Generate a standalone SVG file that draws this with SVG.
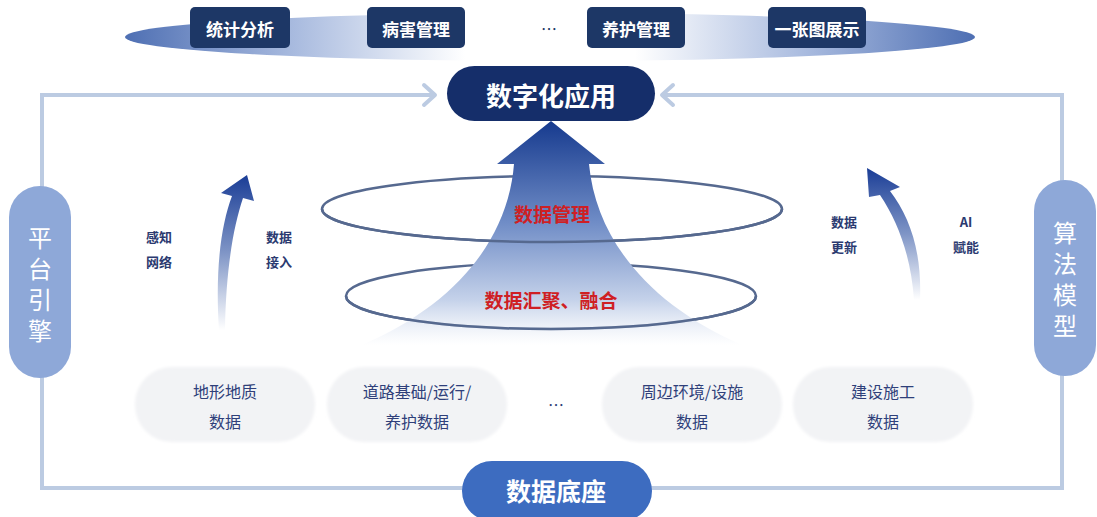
<svg xmlns="http://www.w3.org/2000/svg" width="1097" height="517" viewBox="0 0 1097 517">
<defs>
<style>
.t{font-family:"Noto Sans CJK SC","Noto Sans",sans-serif;}
.topbox{fill:#1d3766;}
.toptxt{fill:#ffffff;font-size:17px;font-weight:700;text-anchor:middle;dominant-baseline:central;}
.lbl{fill:#2b3a70;font-size:13px;font-weight:700;text-anchor:middle;dominant-baseline:central;}
.data{fill:#f2f3f5;filter:url(#soft);}
.dtxt{fill:#2f3f7a;font-size:16px;text-anchor:middle;dominant-baseline:central;}
.side{fill:#8ea8d8;}
.stxt{fill:#ffffff;font-size:24px;text-anchor:middle;writing-mode:vertical-rl;letter-spacing:7px;}
.loop{fill:none;stroke:#bccbe2;stroke-width:4;}
.chev{fill:none;stroke:#bccbe2;stroke-width:4;stroke-linecap:round;stroke-linejoin:round;}
.red{fill:#cf1f24;font-size:19px;font-weight:700;text-anchor:middle;dominant-baseline:central;}
.ring{fill:none;stroke:#56698f;stroke-width:2.5;}
</style>
<filter id="soft" x="-10%" y="-20%" width="120%" height="140%"><feGaussianBlur stdDeviation="1.5"/></filter>
<linearGradient id="disc" x1="0" y1="0" x2="1" y2="0">
<stop offset="0" stop-color="#4e6fb3"/>
<stop offset="0.2" stop-color="#a9bbdf"/>
<stop offset="0.4" stop-color="#ffffff"/>
<stop offset="0.6" stop-color="#ffffff"/>
<stop offset="0.8" stop-color="#a9bbdf"/>
<stop offset="1" stop-color="#4e6fb3"/>
</linearGradient>
<linearGradient id="bigArrow" gradientUnits="userSpaceOnUse" x1="0" y1="121" x2="0" y2="345">
<stop offset="0" stop-color="#163a8e"/>
<stop offset="0.45" stop-color="#6f8cc6"/>
<stop offset="0.8" stop-color="#c5d2ea"/>
<stop offset="1" stop-color="#ffffff" stop-opacity="0.6"/>
</linearGradient>
<linearGradient id="lArrow" gradientUnits="userSpaceOnUse" x1="0" y1="175" x2="0" y2="330">
<stop offset="0" stop-color="#1a3d96"/>
<stop offset="0.5" stop-color="#7f95c6"/>
<stop offset="1" stop-color="#ffffff"/>
</linearGradient>
<linearGradient id="rArrow" gradientUnits="userSpaceOnUse" x1="0" y1="168" x2="0" y2="300">
<stop offset="0" stop-color="#1a3d96"/>
<stop offset="0.5" stop-color="#7f95c6"/>
<stop offset="1" stop-color="#ffffff"/>
</linearGradient>
</defs>
<rect width="1097" height="517" fill="#ffffff"/>

<!-- connectors: loop -->
<g id="connectors">
<path class="loop" d="M433 95 L42 95 L42 488 L1062 488 L1062 95 L662 95"/>
<polyline class="chev" points="424,85 435,95 424,105"/>
<polyline class="chev" points="673,85 662,95 673,105"/>
</g>

<!-- top disc -->
<g id="top-disc">
<ellipse cx="550" cy="37" rx="425" ry="24" fill="url(#disc)"/>
</g>
<g id="n-tjfx"><rect class="topbox" x="190" y="7" width="100" height="41" rx="5"/><text class="t toptxt" x="240" y="28">统计分析</text></g>
<g id="n-bhgl"><rect class="topbox" x="367" y="7" width="98" height="41" rx="5"/><text class="t toptxt" x="416" y="28">病害管理</text></g>
<g id="n-dots-top"><text class="t" x="549" y="28" font-size="16" fill="#1d3766" text-anchor="middle" dominant-baseline="central">…</text></g>
<g id="n-yhgl"><rect class="topbox" x="587" y="7" width="98" height="41" rx="5"/><text class="t toptxt" x="636" y="28">养护管理</text></g>
<g id="n-yztzs"><rect class="topbox" x="768" y="7" width="98" height="41" rx="5"/><text class="t toptxt" x="817" y="28">一张图展示</text></g>

<!-- central node -->
<g id="n-szhyy">
<rect x="447" y="66" width="208" height="55" rx="27.5" fill="#152e6a"/>
<text class="t" x="551" y="94" font-size="26" font-weight="700" fill="#ffffff" text-anchor="middle" dominant-baseline="central">数字化应用</text>
</g>

<!-- rings back -->
<g id="rings-back">
<ellipse class="ring" cx="552" cy="209" rx="230" ry="33" fill="#f4f7fc" fill-opacity="0.6"/>
<ellipse class="ring" cx="551" cy="296" rx="205" ry="33" fill="#f4f7fc" fill-opacity="0.4"/>
</g>

<!-- big arrow -->
<g id="n-bigarrow">
<path d="M551 121 L605 164 L589 164 C596 240 650 305 742 345 L362 345 C455 305 508 240 514 164 L497 164 Z" fill="url(#bigArrow)"/>
</g>

<!-- rings front -->
<g id="rings-front">
<path class="ring" d="M322 209 A230 33 0 0 0 782 209"/>
<path class="ring" d="M346 296 A205 33 0 0 0 756 296"/>
</g>
<g id="n-sjgl"><text class="t red" x="552" y="213">数据管理</text></g>
<g id="n-sjhj"><text class="t red" x="551" y="299">数据汇聚、融合</text></g>

<!-- side pills -->
<g id="n-ptyq">
<rect class="side" x="9" y="186" width="62" height="192" rx="31"/>
<text class="t stxt" x="40" y="288">平台引擎</text>
</g>
<g id="n-sfmx">
<rect class="side" x="1034" y="180" width="62" height="196" rx="31"/>
<text class="t stxt" x="1065" y="283">算法模型</text>
</g>

<!-- curved arrows -->
<g id="n-larrow">
<path d="M219 330 C215 270 221 225 232 196 L221 193 L247 175 L254 201 L243 198 C233 228 226 270 225 330 Z" fill="url(#lArrow)"/>
</g>
<g id="n-rarrow">
<path d="M920 300 C922 252 910 217 890 191 L900 187 L867 168 L869 197 L880 195 C898 222 911 256 914 300 Z" fill="url(#rArrow)"/>
</g>

<!-- side labels -->
<g id="n-gzwl"><text class="t lbl" x="159" y="236">感知</text><text class="t lbl" x="159" y="261">网络</text></g>
<g id="n-sjjr"><text class="t lbl" x="279" y="236">数据</text><text class="t lbl" x="279" y="261">接入</text></g>
<g id="n-sjgx"><text class="t lbl" x="844" y="221">数据</text><text class="t lbl" x="844" y="246">更新</text></g>
<g id="n-aifn"><text class="t lbl" x="966" y="221">AI</text><text class="t lbl" x="966" y="246">赋能</text></g>

<!-- data boxes -->
<g id="n-dxdz"><rect class="data" x="135" y="367" width="180" height="75" rx="37"/><text class="t dtxt" x="225" y="391">地形地质</text><text class="t dtxt" x="225" y="421">数据</text></g>
<g id="n-dljc"><rect class="data" x="327" y="367" width="180" height="75" rx="37"/><text class="t dtxt" x="417" y="391">道路基础/运行/</text><text class="t dtxt" x="417" y="421">养护数据</text></g>
<g id="n-dots-bottom"><text class="t" x="556" y="404" font-size="16" fill="#2f3f7a" text-anchor="middle" dominant-baseline="central">…</text></g>
<g id="n-zbhj"><rect class="data" x="602" y="367" width="180" height="75" rx="37"/><text class="t dtxt" x="692" y="391">周边环境/设施</text><text class="t dtxt" x="692" y="421">数据</text></g>
<g id="n-jssg"><rect class="data" x="793" y="367" width="180" height="75" rx="37"/><text class="t dtxt" x="883" y="391">建设施工</text><text class="t dtxt" x="883" y="421">数据</text></g>

<!-- bottom node -->
<g id="n-sjdz">
<rect x="462" y="461" width="190" height="60" rx="30" fill="#3d6cc0"/>
<text class="t" x="556" y="490" font-size="25" font-weight="700" fill="#ffffff" text-anchor="middle" dominant-baseline="central">数据底座</text>
</g>
</svg>
